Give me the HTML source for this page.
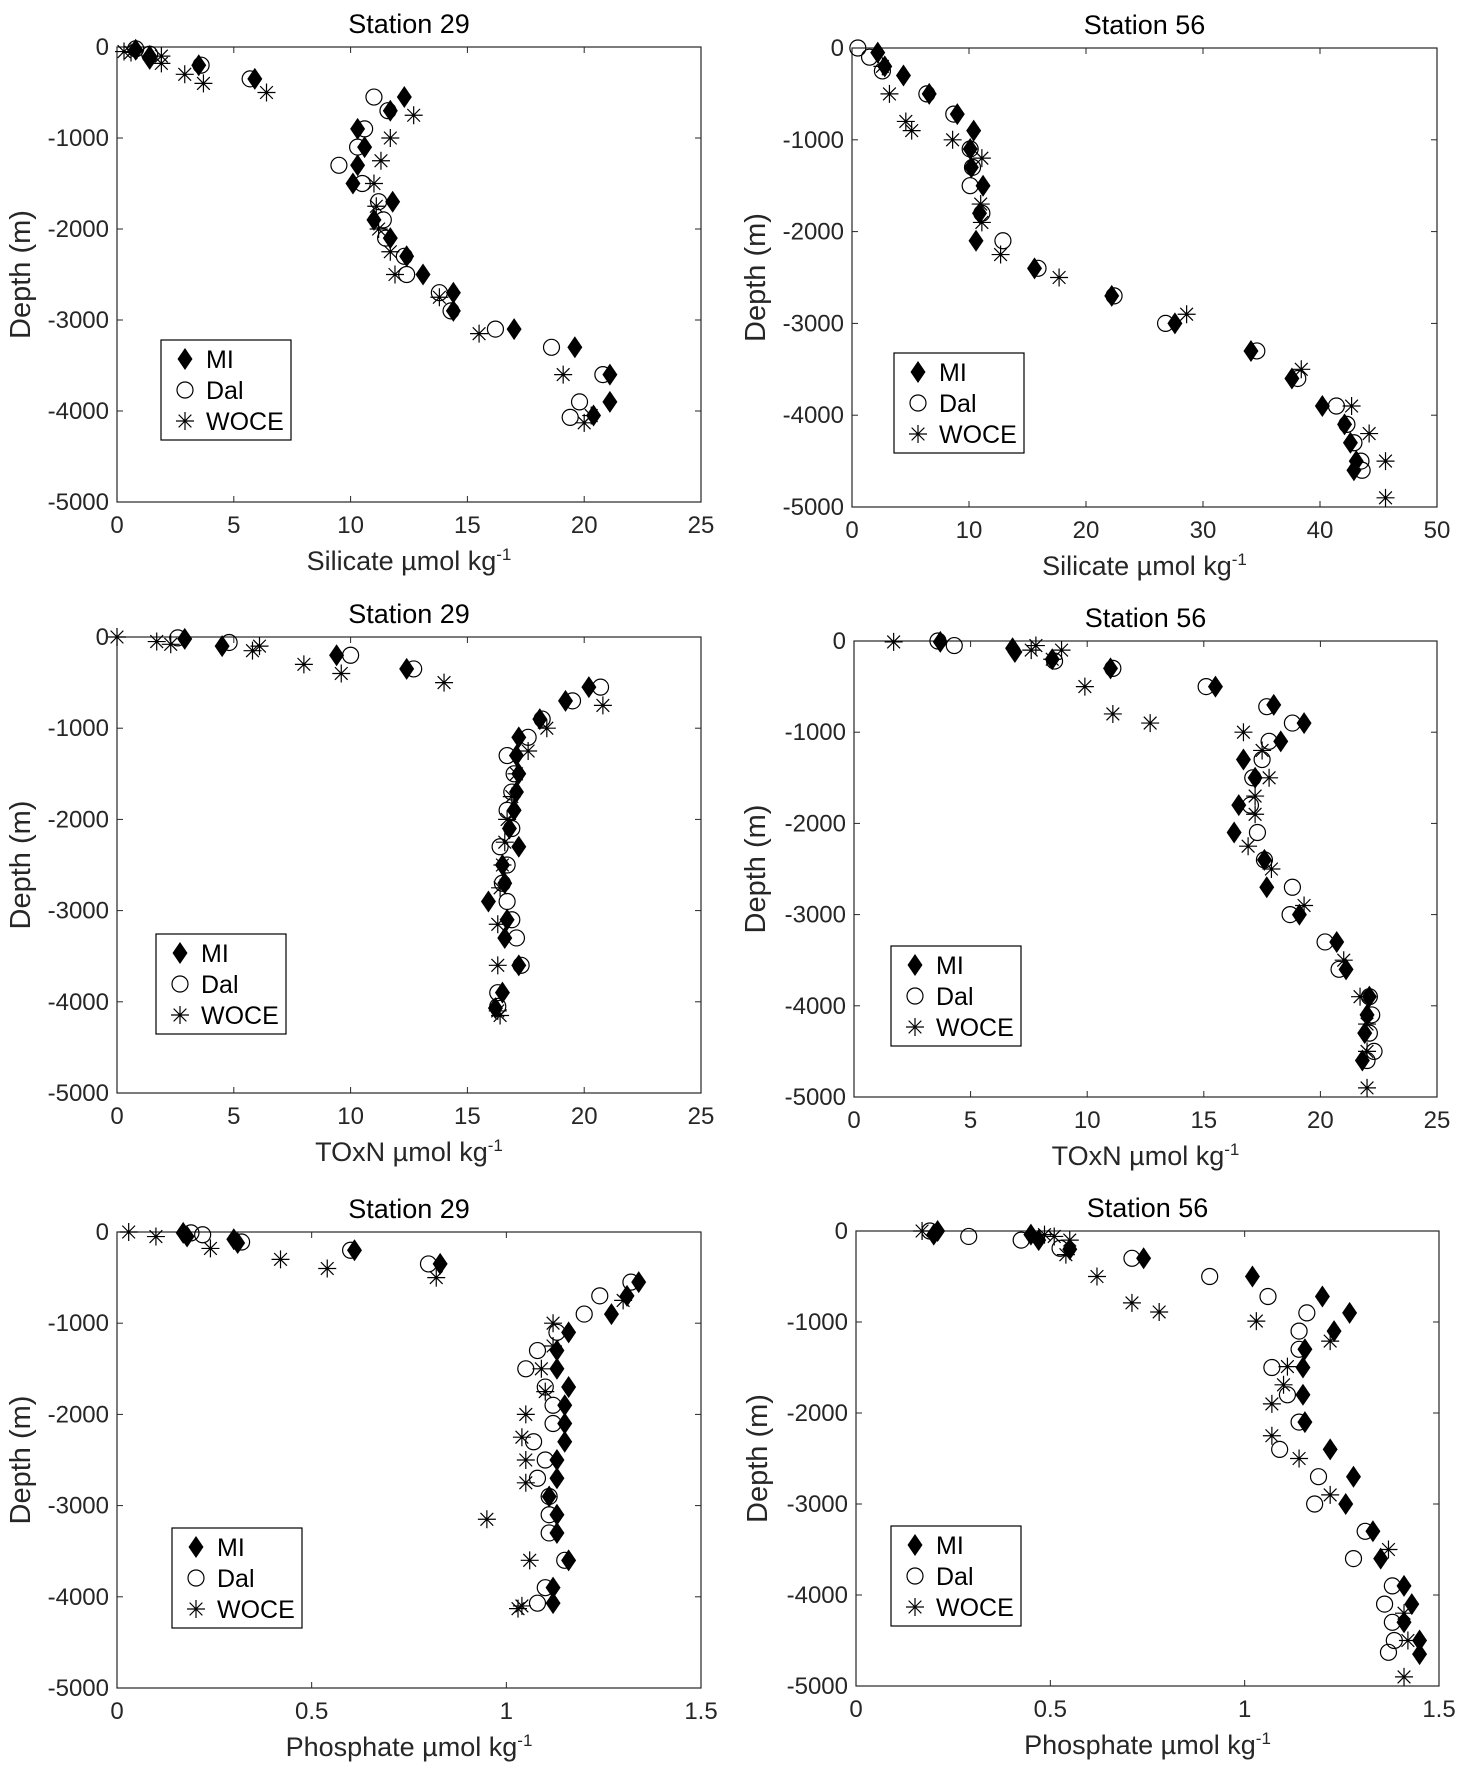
<!DOCTYPE html>
<html><head><meta charset="utf-8"><style>
body{margin:0;background:#fff;}
svg{display:block;font-family:"Liberation Sans",Arial,sans-serif;}
</style></head><body>
<svg id="fig" width="1467" height="1775" viewBox="0 0 1467 1775"></svg>
<script>
// Silicate Station 29
const si29_MI=[[0.8,-30],[1.4,-100],[1.4,-130],[3.5,-200],[5.9,-350],[12.3,-550],[11.7,-700],[10.3,-900],[10.6,-1100],[10.3,-1300],[10.1,-1500],[11.8,-1700],[11,-1900],[11.7,-2100],[12.4,-2300],[13.1,-2500],[14.4,-2700],[14.4,-2900],[17,-3100],[19.6,-3300],[21.1,-3600],[21.1,-3900],[20.4,-4050]];
const si29_Dal=[[0.8,-20],[1.4,-80],[3.6,-200],[5.7,-350],[11,-550],[11.6,-700],[10.6,-900],[10.3,-1100],[9.5,-1300],[10.5,-1500],[11.2,-1700],[11.4,-1900],[11.5,-2100],[12.3,-2300],[12.4,-2500],[13.8,-2700],[14.3,-2900],[16.2,-3100],[18.6,-3300],[20.8,-3600],[19.8,-3900],[19.4,-4070]];
const si29_WOCE=[[0.3,-50],[0.6,-60],[1.9,-100],[1.9,-180],[2.9,-300],[3.7,-400],[6.4,-500],[12.7,-750],[11.7,-1000],[11.3,-1250],[11,-1500],[11.1,-1750],[11.2,-2000],[11.7,-2250],[11.9,-2500],[13.8,-2750],[15.5,-3150],[19.1,-3600],[20.3,-4050],[20,-4130]];
// Silicate Station 56
const si56_MI=[[2.2,-50],[2.8,-200],[4.4,-300],[6.6,-500],[9.0,-720],[10.4,-900],[10.1,-1100],[10.2,-1300],[11.2,-1500],[10.9,-1800],[10.6,-2100],[15.6,-2400],[22.2,-2700],[27.6,-3000],[34.1,-3300],[37.6,-3600],[40.2,-3900],[42.1,-4100],[42.6,-4300],[43.1,-4500],[42.9,-4600]];
const si56_Dal=[[0.5,0],[1.5,-100],[2.6,-250],[6.4,-500],[8.7,-720],[10.1,-1100],[10.3,-1300],[10.1,-1500],[11.1,-1800],[12.9,-2100],[15.9,-2400],[22.4,-2700],[26.8,-3000],[34.6,-3300],[38.1,-3600],[41.4,-3900],[42.3,-4100],[42.9,-4300],[43.5,-4500],[43.6,-4600]];
const si56_WOCE=[[2.6,-200],[3.2,-500],[4.6,-800],[5.1,-900],[8.6,-1000],[11.1,-1200],[11.0,-1700],[11.1,-1900],[12.7,-2250],[17.7,-2500],[28.6,-2900],[38.4,-3500],[42.7,-3900],[44.2,-4200],[45.6,-4500],[45.6,-4900]];
// TOxN Station 29
const tn29_MI=[[2.9,-20],[4.5,-100],[9.4,-200],[12.4,-350],[20.2,-550],[19.2,-700],[18.1,-900],[17.2,-1100],[17.1,-1300],[17.2,-1500],[17.1,-1700],[17,-1900],[16.8,-2100],[17.2,-2300],[16.5,-2500],[16.6,-2700],[15.9,-2900],[16.7,-3100],[16.6,-3300],[17.2,-3600],[16.5,-3900],[16.2,-4070]];
const tn29_Dal=[[2.6,-10],[4.8,-60],[10.0,-200],[12.7,-350],[20.7,-550],[19.5,-700],[18.2,-900],[17.6,-1100],[16.7,-1300],[17,-1500],[16.9,-1700],[16.7,-1900],[16.9,-2100],[16.4,-2300],[16.7,-2500],[16.5,-2700],[16.7,-2900],[16.9,-3100],[17.1,-3300],[17.3,-3600],[16.3,-3900],[16.3,-4050]];
const tn29_WOCE=[[0,0],[1.7,-50],[2.3,-80],[5.8,-150],[6.1,-100],[8,-300],[9.6,-400],[14,-500],[20.8,-750],[18.4,-1000],[17.6,-1250],[17.1,-1500],[16.9,-1750],[16.7,-2000],[16.6,-2250],[16.5,-2500],[16.4,-2750],[16.3,-3150],[16.3,-3600],[16.3,-4100],[16.4,-4150]];
// TOxN Station 56
const tn56_MI=[[3.7,-10],[6.8,-80],[6.9,-120],[8.5,-200],[11.0,-300],[15.5,-500],[18.0,-700],[19.3,-900],[18.3,-1100],[16.7,-1300],[17.2,-1500],[16.5,-1800],[16.3,-2100],[17.6,-2400],[17.7,-2700],[19.1,-3000],[20.7,-3300],[21.1,-3600],[22.1,-3900],[22,-4100],[21.9,-4300],[21.8,-4600]];
const tn56_Dal=[[3.6,0],[4.3,-50],[8.6,-220],[11.1,-300],[15.1,-500],[17.7,-720],[18.8,-900],[17.8,-1100],[17.5,-1300],[17.1,-1500],[17.0,-1800],[17.3,-2100],[17.6,-2400],[18.8,-2700],[18.7,-3000],[20.2,-3300],[20.8,-3600],[22.1,-3900],[22.2,-4100],[22.1,-4300],[22.3,-4500],[22,-4600]];
const tn56_WOCE=[[1.7,-10],[7.8,-50],[7.6,-100],[8.9,-100],[8.5,-200],[9.9,-500],[11.1,-800],[12.7,-900],[16.7,-1000],[17.5,-1200],[17.8,-1500],[17.2,-1700],[17.2,-1900],[16.9,-2250],[17.9,-2500],[19.3,-2900],[21,-3500],[21.7,-3900],[22,-4200],[22,-4500],[22,-4900]];
// Phosphate Station 29
const ph29_MI=[[0.17,-10],[0.18,-50],[0.3,-80],[0.31,-120],[0.61,-200],[0.83,-350],[1.34,-550],[1.31,-700],[1.27,-900],[1.16,-1100],[1.13,-1300],[1.13,-1500],[1.16,-1700],[1.15,-1900],[1.15,-2100],[1.15,-2300],[1.13,-2500],[1.13,-2700],[1.11,-2900],[1.13,-3100],[1.13,-3300],[1.16,-3600],[1.12,-3900],[1.12,-4070]];
const ph29_Dal=[[0.19,-10],[0.22,-30],[0.32,-110],[0.60,-200],[0.80,-350],[1.32,-550],[1.24,-700],[1.20,-900],[1.13,-1100],[1.08,-1300],[1.05,-1500],[1.10,-1700],[1.12,-1900],[1.12,-2100],[1.07,-2300],[1.10,-2500],[1.08,-2700],[1.11,-2900],[1.11,-3100],[1.11,-3300],[1.15,-3600],[1.10,-3900],[1.08,-4070]];
const ph29_WOCE=[[0.03,0],[0.10,-50],[0.24,-180],[0.42,-300],[0.54,-400],[0.82,-500],[1.30,-750],[1.12,-1000],[1.12,-1250],[1.09,-1500],[1.10,-1750],[1.05,-2000],[1.04,-2250],[1.05,-2500],[1.05,-2750],[0.95,-3150],[1.06,-3600],[1.04,-4100],[1.03,-4130]];
// Phosphate Station 56
const ph56_MI=[[0.21,0],[0.20,-40],[0.45,-40],[0.47,-100],[0.55,-200],[0.74,-300],[1.02,-500],[1.20,-720],[1.27,-900],[1.23,-1100],[1.155,-1300],[1.15,-1500],[1.15,-1800],[1.155,-2100],[1.22,-2400],[1.28,-2700],[1.26,-3000],[1.33,-3300],[1.35,-3600],[1.41,-3900],[1.43,-4100],[1.41,-4300],[1.45,-4500],[1.45,-4650]];
const ph56_Dal=[[0.19,0],[0.29,-60],[0.425,-100],[0.525,-190],[0.71,-300],[0.91,-500],[1.06,-720],[1.16,-900],[1.14,-1100],[1.14,-1300],[1.07,-1500],[1.11,-1800],[1.14,-2100],[1.09,-2400],[1.19,-2700],[1.18,-3000],[1.31,-3300],[1.28,-3600],[1.38,-3900],[1.36,-4100],[1.38,-4300],[1.385,-4500],[1.37,-4630]];
const ph56_WOCE=[[0.17,0],[0.485,-40],[0.51,-60],[0.55,-100],[0.54,-260],[0.62,-500],[0.71,-790],[0.78,-890],[1.03,-990],[1.22,-1210],[1.11,-1490],[1.10,-1690],[1.07,-1900],[1.07,-2250],[1.14,-2500],[1.22,-2900],[1.37,-3500],[1.41,-4200],[1.42,-4500],[1.41,-4900]];

const depthTicks=[0,-1000,-2000,-3000,-4000,-5000];
const ticks25=[0,5,10,15,20,25];
const ticks50=[0,10,20,30,40,50];
const ticks15=[0,0.5,1,1.5];
const ticks15Labels=['0','0.5','1','1.5'];

const NS='http://www.w3.org/2000/svg';
const svg=document.getElementById('fig');
function el(tag,attrs,parent){const e=document.createElementNS(NS,tag);for(const k in attrs)e.setAttribute(k,attrs[k]);(parent||svg).appendChild(e);return e;}
function txt(str,attrs,parent){const e=el('text',attrs,parent);e.textContent=str;return e;}

function diamond(g,cx,cy){return el('path',{d:`M${cx},${cy-11}L${cx+7.5},${cy}L${cx},${cy+11}L${cx-7.5},${cy}Z`,fill:'#000'},g);}
function circle(g,cx,cy){return el('circle',{cx:cx,cy:cy,r:8,fill:'none',stroke:'#000','stroke-width':1.2},g);}
function star(g,cx,cy){const r=9,d=r*0.7071;return el('path',{d:`M${cx-r},${cy}H${cx+r}M${cx},${cy-r}V${cy+r}M${cx-d},${cy-d}L${cx+d},${cy+d}M${cx-d},${cy+d}L${cx+d},${cy-d}`,stroke:'#000','stroke-width':1.2,fill:'none'},g);}

function panel(cfg){
  const g=el('g',{});
  
  
  const [L,T,R,B]=cfg.box;
  const xs=v=>L+(v-0)/cfg.xmax*(R-L);
  const ys=v=>T+(0-v)/5000*(B-T);
  const ax=el('rect',{x:L,y:T,width:R-L,height:B-T,fill:'#fff',stroke:'#262626','stroke-width':1.2},g);
  
  
  cfg.xticks.forEach((t,i)=>{
    const x=xs(t);
    el('line',{x1:x,y1:B,x2:x,y2:B-6,stroke:'#262626'},g);
    el('line',{x1:x,y1:T,x2:x,y2:T+6,stroke:'#262626'},g);
    const lb=txt(cfg.xlabels?cfg.xlabels[i]:String(t),{x:x,y:B+31,'text-anchor':'middle','font-size':24,fill:'#262626'},g);
    
    
  });
  depthTicks.forEach(t=>{
    const y=ys(t);
    el('line',{x1:L,y1:y,x2:L+6,y2:y,stroke:'#262626'},g);
    el('line',{x1:R,y1:y,x2:R-6,y2:y,stroke:'#262626'},g);
    const lb=txt(String(t),{x:L-8,y:y+8,'text-anchor':'end','font-size':24,fill:'#262626'},g);
    
    
  });
  const ti=txt(cfg.title,{x:(L+R)/2,y:T-14,'text-anchor':'middle','font-size':27,fill:'#000'},g);
  
  
  const xl=el('text',{x:(L+R)/2,y:B+68,'text-anchor':'middle','font-size':27,fill:'#262626'},g);
  xl.textContent=cfg.xname+' µmol kg';
  const sup=el('tspan',{dy:-10,'font-size':17},xl);sup.textContent='-1';
  
  
  const yl=txt('Depth (m)',{x:0,y:0,'text-anchor':'middle','font-size':29,fill:'#262626',transform:`translate(${cfg.ylx},${(T+B)/2}) rotate(-90)`},g);
  
  
  const sg=[[cfg.mi,diamond,'series-mi'],[cfg.dal,circle,'series-dal'],[cfg.woce,star,'series-woce']];
  sg.forEach(([arr,fn,nm])=>{
    const sgr=el('g',{},g);
    
    
    arr.forEach(p=>{const m=fn(sgr,xs(p[0]),ys(p[1]));
      
      });
  });
  const [lx,ly]=cfg.leg;
  const lg=el('g',{},g);
  
  
  el('rect',{x:lx,y:ly,width:130,height:100,fill:'#fff',stroke:'#000','stroke-width':1.2},lg);
  const names=['MI','Dal','WOCE'],fns=[diamond,circle,star];
  names.forEach((n,i)=>{
    const yy=ly+19+i*31;
    fns[i](lg,lx+24,yy);
    const e=txt(n,{x:lx+45,y:yy+9,'font-size':25,fill:'#000'},lg);
    
    
  });
}

panel({name:'silicate-station-29',box:[117,47,701,502],xmax:25,xticks:ticks25,title:'Station 29',xname:'Silicate',ylx:30,leg:[161,340],mi:si29_MI,dal:si29_Dal,woce:si29_WOCE});
panel({name:'silicate-station-56',box:[852,48,1437,507],xmax:50,xticks:ticks50,title:'Station 56',xname:'Silicate',ylx:765,leg:[894,353],mi:si56_MI,dal:si56_Dal,woce:si56_WOCE});
panel({name:'toxn-station-29',box:[117,637,701,1093],xmax:25,xticks:ticks25,title:'Station 29',xname:'TOxN',ylx:30,leg:[156,934],mi:tn29_MI,dal:tn29_Dal,woce:tn29_WOCE});
panel({name:'toxn-station-56',box:[854,641,1437,1097],xmax:25,xticks:ticks25,title:'Station 56',xname:'TOxN',ylx:765,leg:[891,946],mi:tn56_MI,dal:tn56_Dal,woce:tn56_WOCE});
panel({name:'phosphate-station-29',box:[117,1232,701,1688],xmax:1.5,xticks:ticks15,xlabels:ticks15Labels,title:'Station 29',xname:'Phosphate',ylx:30,leg:[172,1528],mi:ph29_MI,dal:ph29_Dal,woce:ph29_WOCE});
panel({name:'phosphate-station-56',box:[856,1231,1439,1686],xmax:1.5,xticks:ticks15,xlabels:ticks15Labels,title:'Station 56',xname:'Phosphate',ylx:767,leg:[891,1526],mi:ph56_MI,dal:ph56_Dal,woce:ph56_WOCE});
</script>
</body></html>
